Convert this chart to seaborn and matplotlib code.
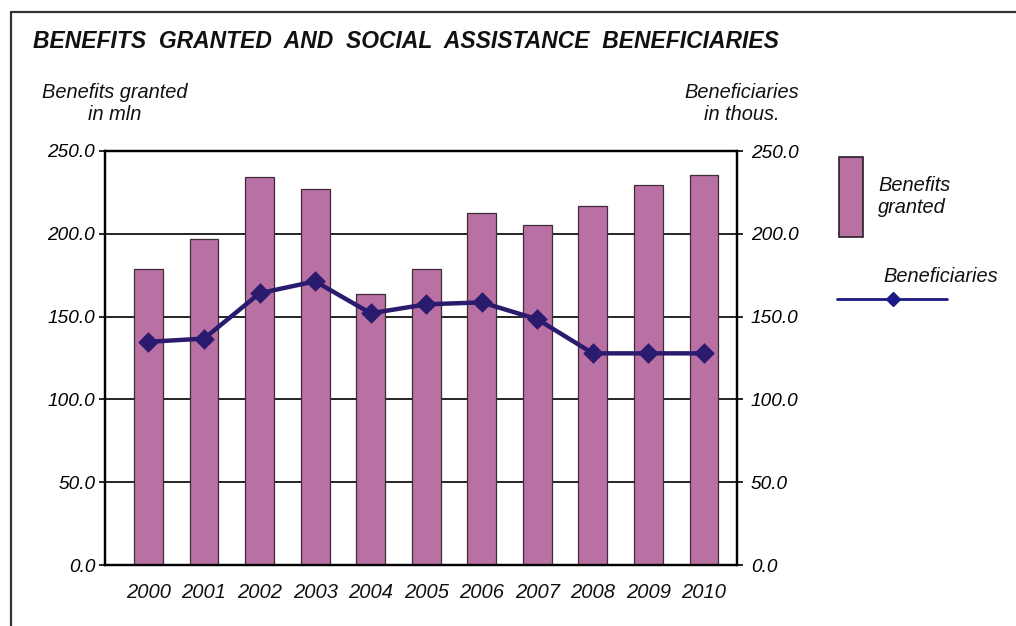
import numpy as np
import pandas as pd
import matplotlib
matplotlib.use("Agg")
import matplotlib.pyplot as plt
import seaborn as sns
from matplotlib.lines import Line2D
from matplotlib.patches import Rectangle

# ---- data ----
years = ["2000", "2001", "2002", "2003", "2004", "2005",
         "2006", "2007", "2008", "2009", "2010"]
benefits = [178.7, 196.9, 234.5, 226.9, 163.5, 178.6,
            212.8, 205.1, 216.6, 229.7, 235.7]
beneficiaries = [134.8, 136.7, 164.1, 171.3, 152.0, 157.4,
                 158.6, 148.4, 127.8, 127.8, 127.8]
yticks = [0, 50, 100, 150, 200, 250]

title = "BENEFITS  GRANTED  AND  SOCIAL  ASSISTANCE  BENEFICIARIES"
left_label = "Benefits granted\nin mln"
right_label = "Beneficiaries\nin thous."
legend_bar = "Benefits\ngranted"
legend_line = "Beneficiaries"

bar_color = "#b971a3"
line_color = "#2b1b6e"
legend_line_color = "#1c1a86"

sns.set_theme(style="white")
plt.rcParams['font.family'] = ['Liberation Sans', 'DejaVu Sans']

W, H = 1016, 626
fig = plt.figure(figsize=(W / 100, H / 100), dpi=100)
fig.patch.set_facecolor("white")


def fx(px):
    return px / W


def fy(py):
    return 1 - py / H


ax = fig.add_axes([fx(105), fy(565), fx(737) - fx(105), fy(151) - fy(565)])
df = pd.DataFrame({"year": years, "benefits": benefits,
                   "beneficiaries": beneficiaries})

sns.barplot(data=df, x="year", y="benefits", ax=ax, color=bar_color,
            saturation=1, width=0.52, edgecolor="#3d2b38", linewidth=0.9,
            errorbar=None, zorder=2)
ax.set_ylim(0, 250)
ax.set_yticks(yticks)
ax.set_yticklabels([f"{v:.1f}" for v in yticks], fontstyle="italic",
                   fontsize=13.7, color="#111111")
ax.yaxis.grid(True, color="black", linewidth=1.2)
ax.xaxis.grid(False)
ax.set_axisbelow(True)
ax.tick_params(axis="y", direction="out", length=4, width=1.2, pad=3,
               left=True, colors="black")
ax.tick_params(axis="x", length=0, pad=13)
for lab in ax.get_xticklabels():
    lab.set_fontstyle("italic")
    lab.set_fontsize(14.5)
    lab.set_color("#111111")
ax.set_xlabel("")
ax.set_ylabel("")

ax2 = ax.twinx()
sns.pointplot(data=df, x="year", y="beneficiaries", ax=ax2,
              color=line_color, marker="D", markersize=8, linewidth=3.2,
              errorbar=None)
ax2.set_ylim(0, 250)
ax2.set_yticks(yticks)
ax2.set_yticklabels([f"{v:.1f}" for v in yticks], fontstyle="italic",
                    fontsize=13.7, color="#111111")
ax2.tick_params(axis="y", direction="out", length=4, width=1.2, pad=6,
                right=True, colors="black")
ax2.set_xlabel("")
ax2.set_ylabel("")
ax.set_xlim(-0.783, 10.594)
ax2.set_xlim(-0.783, 10.594)

for a in (ax, ax2):
    for s in a.spines.values():
        s.set_color("black")
        s.set_linewidth(1.6)
        s.set_visible(True)

# ---- texts ----
fig.text(fx(33), fy(42), title, fontsize=16.5, fontweight="bold",
         fontstyle="italic", ha="left", va="center", color="#111111")
fig.text(fx(115), fy(104), left_label, fontsize=14.4, fontstyle="italic",
         ha="center", va="center", multialignment="center",
         linespacing=1.2, color="#111111")
fig.text(fx(742), fy(104), right_label, fontsize=14.4, fontstyle="italic",
         ha="center", va="center", multialignment="center",
         linespacing=1.2, color="#111111")

# ---- legend ----
fig.patches.append(Rectangle((fx(839), fy(237)), fx(863) - fx(839),
                             fy(157) - fy(237), transform=fig.transFigure,
                             facecolor=bar_color, edgecolor="#2a1f26",
                             linewidth=1.2))
fig.text(fx(878), fy(196), legend_bar, fontsize=14.4, fontstyle="italic",
         ha="left", va="center", linespacing=1.2, color="#111111")
fig.lines.append(Line2D([fx(837), fx(947)], [fy(299), fy(299)],
                        transform=fig.transFigure, color=legend_line_color,
                        linewidth=2))
fig.lines.append(Line2D([fx(893)], [fy(299)], transform=fig.transFigure,
                        color=legend_line_color, marker="D", markersize=7.5,
                        linestyle="none"))
fig.text(fx(883), fy(277), legend_line, fontsize=14.4, fontstyle="italic",
         ha="left", va="center", color="#111111")

# ---- outer frame ----
fig.lines.append(Line2D([fx(11), 1.0], [fy(12), fy(12)],
                        transform=fig.transFigure, color="#333333",
                        linewidth=1.6))
fig.lines.append(Line2D([fx(11), fx(11)], [fy(12), 0.0],
                        transform=fig.transFigure, color="#333333",
                        linewidth=1.6))

fig.savefig("out.png", dpi=100, facecolor="white")
